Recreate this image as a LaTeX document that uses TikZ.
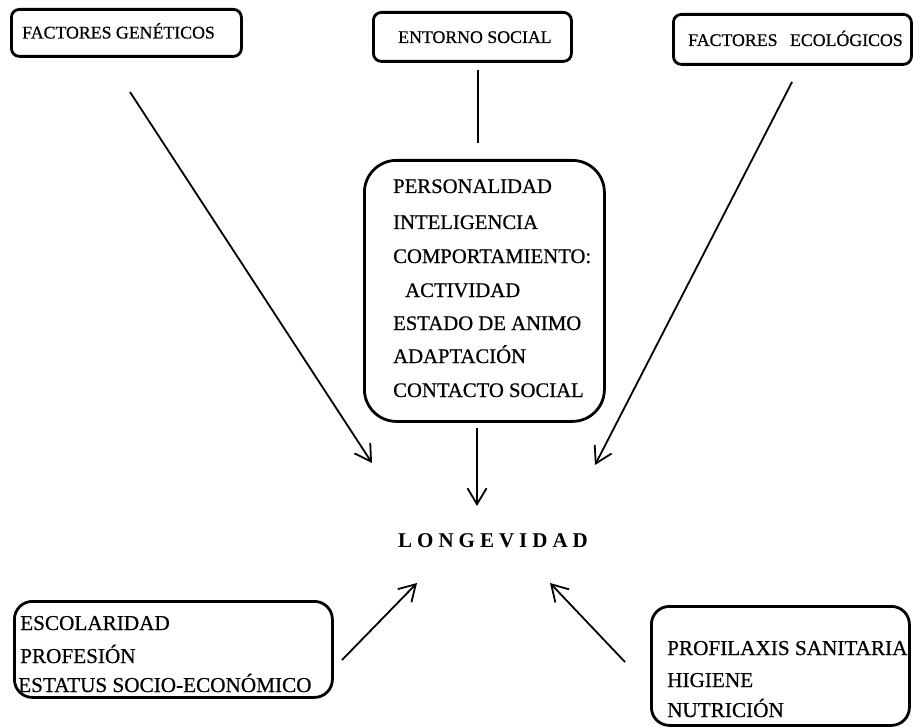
\documentclass[tikz,border=0pt]{standalone}
\usepackage{fontspec}
\setmainfont{Liberation Serif}
\newfontfamily\heavy{Liberation Serif}[FakeBold=0.6]
\usetikzlibrary{arrows.meta}
\begin{document}
\begin{tikzpicture}[x=1pt,y=-1pt,
  box/.style={draw,line width=2.8pt,inner sep=0pt,anchor=north west},
  lbl/.style={anchor=base west,inner sep=0pt},
  topf/.style={font=\heavy\fontsize{17.8}{17.8}\selectfont},
  midf/.style={font=\heavy\fontsize{20.7}{20.7}\selectfont},
  botf/.style={font=\heavy\fontsize{21.2}{21.2}\selectfont},
  conn/.style={line width=1.8pt,-{Straight Barb[length=16pt,width=19pt,line width=1.8pt]}},
  plainline/.style={line width=1.8pt}]
\useasboundingbox[fill=white] (0,0) rectangle (920,727);

% top boxes
\node[box,rounded corners=8pt,minimum width=230pt,minimum height=47pt] (gen) at (10,8) {};
\node[lbl,topf] (gent) at (22,38.5) {FACTORES GENÉTICOS};
\node[box,rounded corners=8pt,minimum width=198pt,minimum height=49pt] (ent) at (372,11) {};
\node[lbl,topf] (entt) at (398,43) {ENTORNO SOCIAL};
\node[box,rounded corners=8pt,minimum width=238pt,minimum height=50pt] (eco) at (672,13) {};
\node[lbl,topf] (ecot) at (688,46) {FACTORES\hspace{8pt} ECOLÓGICOS};

% centre box
\node[box,rounded corners=32pt,minimum width=240pt,minimum height=261pt] (psy) at (363,159) {};
\node[lbl,midf] (p1) at (393,193) {PERSONALIDAD};
\node[lbl,midf] (p2) at (393,229) {INTELIGENCIA};
\node[lbl,midf] (p3) at (393,263) {COMPORTAMIENTO:};
\node[lbl,midf] (p4) at (405,297) {ACTIVIDAD};
\node[lbl,midf] (p5) at (393,330) {ESTADO DE ANIMO};
\node[lbl,midf] (p6) at (393,363) {ADAPTACIÓN};
\node[lbl,midf] (p7) at (393,397) {CONTACTO SOCIAL};

% LONGEVIDAD
\node[lbl,font=\fontsize{21}{21}\selectfont\bfseries] (lon) at (398,547)
  {L\hspace{5pt}O\hspace{5pt}N\hspace{5pt}G\hspace{5pt}E\hspace{5pt}V\hspace{5pt}I\hspace{5pt}D\hspace{5pt}A\hspace{5pt}D};

% bottom boxes
\node[box,rounded corners=18pt,minimum width=318pt,minimum height=96pt] (edu) at (13,600) {};
\node[lbl,botf] (e1) at (20,630) {ESCOLARIDAD};
\node[lbl,botf] (e2) at (20,663) {PROFESIÓN};
\node[lbl,botf] (e3) at (18,692) {ESTATUS SOCIO-ECONÓMICO};
\node[box,rounded corners=18pt,minimum width=258pt,minimum height=119pt] (san) at (650,605) {};
\node[lbl,botf] (s1) at (667,655) {PROFILAXIS SANITARIA};
\node[lbl,botf] (s2) at (667,687) {HIGIENE};
\node[lbl,botf] (s3) at (667,717) {NUTRICIÓN};

% connector ends
\coordinate (ga) at (130,92);   \coordinate (gb) at (372,463);
\coordinate (ca) at (792,82);   \coordinate (cb) at (595,465);
\coordinate (ea) at (478,70);   \coordinate (eb) at (478,143);
\coordinate (pa) at (477,428);  \coordinate (pb) at (477,506);
\coordinate (la) at (342,660);  \coordinate (lb) at (417,583);
\coordinate (ra) at (625,662);  \coordinate (rb) at (550,583);

\draw[conn] (ga) -- (gb);
\draw[conn] (ca) -- (cb);
\draw[plainline] (ea) -- (eb);
\draw[conn] (pa) -- (pb);
\draw[conn] (la) -- (lb);
\draw[conn] (ra) -- (rb);
\end{tikzpicture}
\end{document}
